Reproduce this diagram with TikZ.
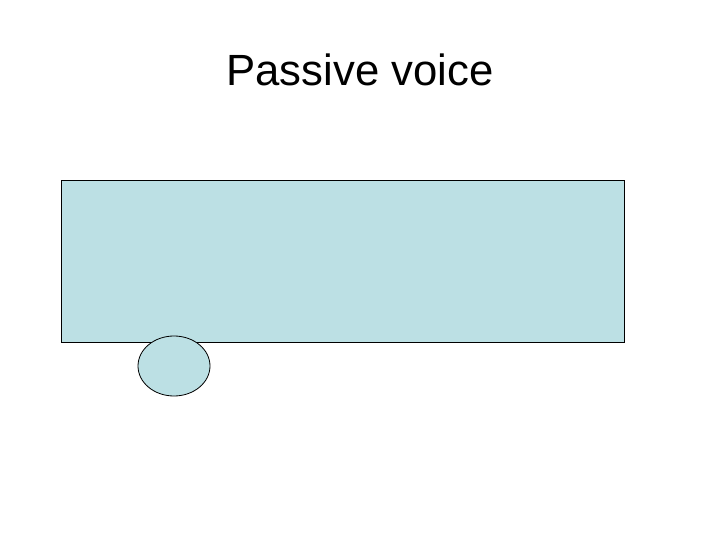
\documentclass[tikz,border=0pt]{standalone}
\usepackage{fontspec}
\setmainfont{Liberation Sans}
\usetikzlibrary{shapes.geometric}
\definecolor{boxblue}{RGB}{188,224,228}
\begin{document}
\begin{tikzpicture}[x=1pt,y=-1pt,
  bluefill/.style={draw=black, fill=boxblue, line width=0.8pt, inner sep=0pt}]
\useasboundingbox (0,0) rectangle (720,540);
\node[anchor=base, inner sep=0pt, font=\fontsize{43.7}{50}\selectfont] (title) at (360,86) {Passive voice};
\node[bluefill, rectangle, minimum width=563pt, minimum height=162pt, anchor=north west] (box) at (61,180) {};
\node[bluefill, ellipse, minimum width=72pt, minimum height=60pt] (oval) at (174,366) {};
\end{tikzpicture}
\end{document}
